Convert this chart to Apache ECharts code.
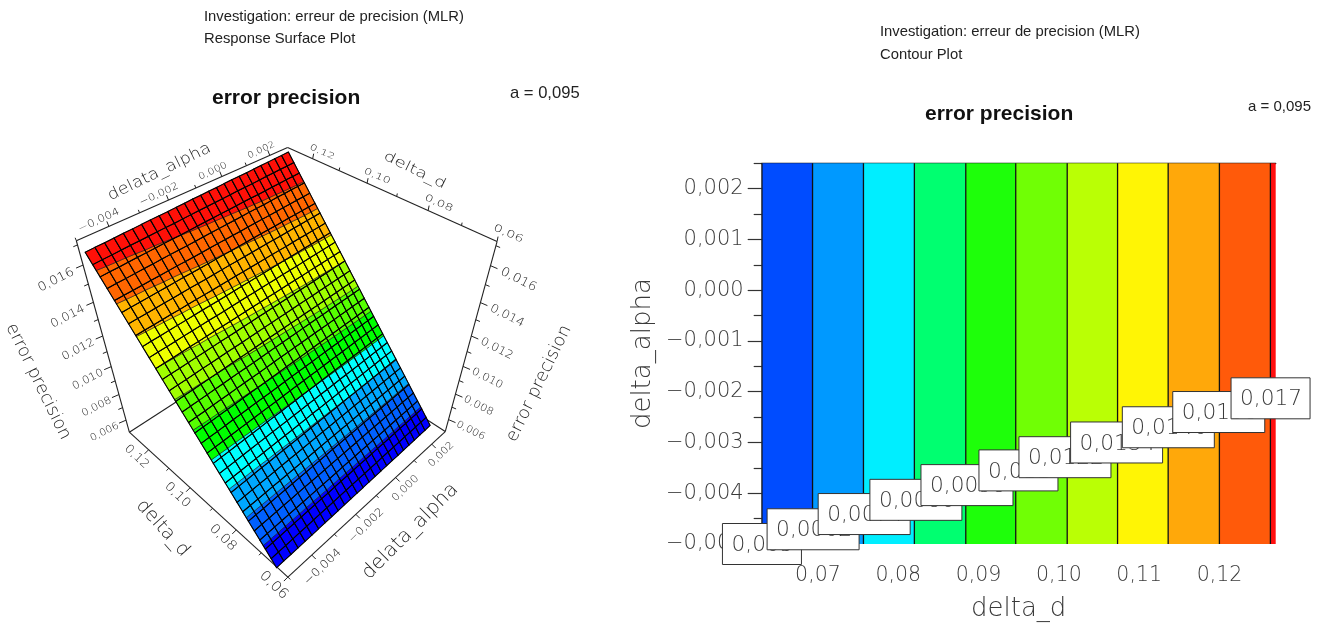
<!DOCTYPE html>
<html><head><meta charset="utf-8">
<style>html,body{margin:0;padding:0;background:#fff}#c{width:1323px;height:623px}</style>
<script src="https://cdn.jsdelivr.net/npm/echarts@6/dist/echarts.min.js"></script>
</head><body><div id="c"></div>
<script>
// ---------- values ----------
const contourLevels = [0.005,0.0062,0.0074,0.0086,0.0098,0.011,0.0122,0.0134,0.0146,0.0158,0.017];
const contourLabels = ['0,005','0,0062','0,0074','0,0086','0,0098','0,011','0,0122','0,0134','0,0146','0,0158','0,017'];
const contourD = [0.06303,0.06933,0.07567,0.08201,0.08841,0.09463,0.10104,0.10731,0.11361,0.11999,0.12634];
const labelD = [0.06303,0.0694,0.07576,0.0822,0.08856,0.09497,0.10076,0.10719,0.11363,0.11991,0.12636];
const labelAlpha = [-0.005,-0.00471,-0.00441,-0.00413,-0.00384,-0.00355,-0.00329,-0.003,-0.0027,-0.0024,-0.00213];
const contourColors = ['#004cff','#0099ff','#00eeff','#00ff70','#1eff0a','#70ff05','#baff05','#fff505','#ffa80a','#ff5a0a','#ff0f0f'];
const surfaceColors = ['#0000ff','#0060ff','#00a8ff','#00ffff','#00ff00','#55ff00','#a0ff00','#eeff00','#ffb400','#ff6600','#ff1008'];
const surfaceLevels = [0.0061,0.0072,0.0083,0.0094,0.0105,0.0116,0.0127,0.0138,0.0149,0.016];
const dMajor = [0.07,0.08,0.09,0.10,0.11,0.12];
const dMinor = [0.075,0.085,0.095,0.105,0.115,0.125];
const alphaMajor = [-0.005,-0.004,-0.003,-0.002,-0.001,0,0.001,0.002];
const alphaMinor = [-0.0045,-0.0035,-0.0025,-0.0015,-0.0005,0.0005,0.0015,0.0025];
// surface mesh
const meshD = [0.0642,0.0662,0.0683,0.0703,0.0723,0.0744,0.0764,0.0784,0.0805,0.0825,0.0845,0.0866,0.0887,0.0907,0.0928,0.0949,0.0970,0.0991,0.1012,0.1034,0.1055,0.1076,0.1097,0.1118,0.1140,0.1161,0.1183,0.1205,0.1226,0.1248,0.1270];
const meshAlpha = [-0.0050,-0.0047,-0.0044,-0.0041,-0.0038,-0.0035,-0.0032,-0.0029,-0.0026,-0.0023,-0.0020,-0.0017,-0.0014,-0.0011,-0.0008,-0.0005,-0.0002,0.0001,0.0004,0.0007,0.0010,0.0013,0.0016,0.0019,0.0022,0.0025];
const meshZ = [0.00520,0.00560,0.00600,0.00638,0.00676,0.00716,0.00755,0.00793,0.00833,0.00871,0.00909,0.00949,0.00989,0.01027,0.01067,0.01107,0.01147,0.01187,0.01227,0.01269,0.01309,0.01349,0.01389,0.01429,0.01471,0.01511,0.01553,0.01595,0.01635,0.01677,0.01719];
const meshTilt = [-0.0003,-0.00028,-0.00027,-0.00025,-0.00023,-0.00022,-0.0002,-0.00018,-0.00017,-0.00016,-0.00014,-0.00012,-0.0001,-0.00009,-0.00007,-0.00006,-0.00004,-0.00002,-0.00001,0,0.00002,0.00004,0.00005,0.00007,0.00008,0.0001];
const colourBend = [-0.0006,-0.00057,-0.00055,-0.00053,-0.0005,-0.00047,-0.00045,-0.00042,-0.00039,-0.00036,-0.00033,-0.0003,-0.00027,-0.00025,-0.00022,-0.0002,-0.00017,-0.00014,-0.00012,-0.0001,-0.00008,-0.00006,-0.00004,-0.00002,-0.00001,0];
// 3D box ranges and ticks
const boxD = [0.06,0.13], boxAlpha = [-0.005,0.0028], boxZ = [0.005,0.0172];
const zTicks = [0.006,0.008,0.010,0.012,0.014,0.016], zTickLabels = ['0,006','0,008','0,010','0,012','0,014','0,016'], zMinor = [0.007,0.009,0.011,0.013,0.015,0.017];
const dTicks3 = [0.06,0.08,0.10,0.12], dTickLabels3 = ['0,06','0,08','0,10','0,12'], dMinor3 = [0.07,0.09,0.11];
const aTicks3 = [-0.004,-0.002,0,0.002], aTickLabels3 = ['\u22120,004','\u22120,002','0,000','0,002'], aMinor3 = [-0.005,-0.003,-0.001,0.001];

// ---------- view calibration of the 3D box: [u,v,w] box corner -> picture position ----------
const view = [[1,0,1,77.3,243.3],[1,1,1,287.7,144],[0,1,1,496,243.3],[1,0,0,128.3,427.3],[0,1,0,445.7,427.3],[0,0,0,288.3,580.7],[1,1,0,288,335]];
function solveView(){
  const rows=[],rhs=[];
  view.forEach(([u,v,w,x,y])=>{
    rows.push([u,v,w,1,0,0,0,0,-x*u,-x*v,-x*w]);rhs.push(x);
    rows.push([0,0,0,0,u,v,w,1,-y*u,-y*v,-y*w]);rhs.push(y);
  });
  const n=11,M=[];
  for(let i=0;i<n;i++){const r=[];for(let j=0;j<n;j++){let s=0;rows.forEach(a=>s+=a[i]*a[j]);r.push(s);}let s=0;rows.forEach((a,k)=>s+=a[i]*rhs[k]);r.push(s);M.push(r);}
  for(let i=0;i<n;i++){let p=i;for(let k=i+1;k<n;k++)if(Math.abs(M[k][i])>Math.abs(M[p][i]))p=k;[M[i],M[p]]=[M[p],M[i]];
    for(let k=0;k<n;k++){if(k===i)continue;const f=M[k][i]/M[i][i];for(let j=i;j<=n;j++)M[k][j]-=f*M[i][j];}}
  return M.map((r,i)=>r[n]/r[i]);
}
const P = solveView();
function project(d,a,z){
  const u=(d-boxD[0])/(boxD[1]-boxD[0]),v=(a-boxAlpha[0])/(boxAlpha[1]-boxAlpha[0]),w=(z-boxZ[0])/(boxZ[1]-boxZ[0]);
  const q=P[8]*u+P[9]*v+P[10]*w+1;
  return [(P[0]*u+P[1]*v+P[2]*w+P[3])/q,(P[4]*u+P[5]*v+P[6]*w+P[7])/q,q];
}
const dLo=boxD[0],dHi=boxD[1],aLo=boxAlpha[0],aHi=boxAlpha[1],zLo=boxZ[0],zHi=boxZ[1];

const FONT='"DejaVu Sans"';
const INK='#3a3a3a', INK3='#222';
const axes3 = [
 {at:t=>[dHi,aLo,t],ticks:zTicks,labels:zTickLabels,minor:zMinor,tick:[-7,3],off:[-27,15],rot:27,size:13.6,sy:0.9,title:'error precision',tAt:0.011,tOff:[-69,30],tRot:-64,tSize:17.5,tSy:1,ref:0.016},
 {at:t=>[dLo,aHi,t],ticks:zTicks,labels:zTickLabels,minor:zMinor,tick:[7,3],off:[28,14],rot:-27,size:13.6,sy:0.9,title:'error precision',tAt:0.011,tOff:[72,32],tRot:64,tSize:17.5,tSy:1,ref:0.016},
 {at:t=>[dHi,t,zHi],ticks:aTicks3,labels:aTickLabels3,minor:aMinor3,tick:[-2,-5],off:[-10,-6],rot:25,size:12,sy:0.85,title:'delata_alpha',tAt:-0.002,tOff:[-9,-28],tRot:26,tSize:17.6,tSy:0.9,ref:-0.004},
 {at:t=>[t,aHi,zHi],ticks:dTicks3,labels:dTickLabels3,minor:dMinor3,tick:[1,-5],off:[9.5,-6.5],rot:-24,size:12,sy:0.7,title:'delta_d',tAt:0.09,tOff:[18,-26],tRot:-26,tSize:18.5,tSy:0.75,ref:0.12},
 {at:t=>[t,aLo,zLo],ticks:dTicks3,labels:dTickLabels3,minor:dMinor3,tick:[-4,4],off:[-12,7],rot:-44,size:13,sy:0.9,title:'delta_d',tAt:0.09,tOff:[-50,20],tRot:-48,tSize:19,tSy:1,ref:0.12},
 {at:t=>[dLo,t,zLo],ticks:aTicks3,labels:aTickLabels3,minor:aMinor3,tick:[4,4],off:[11,12],rot:44,size:12.7,sy:0.9,title:'delata_alpha',tAt:-0.001,tOff:[34,36],tRot:45,tSize:19.8,tSy:1,ref:-0.004}
];
const boxEdges = [
 [[dHi,aLo,zHi],[dHi,aHi,zHi]],[[dHi,aHi,zHi],[dLo,aHi,zHi]],
 [[dHi,aLo,zHi],[dHi,aLo,zLo]],[[dLo,aHi,zHi],[dLo,aHi,zLo]],
 [[dHi,aLo,zLo],[dLo,aLo,zLo]],[[dLo,aLo,zLo],[dLo,aHi,zLo]],
 [[dHi,aLo,zLo],[dHi,aHi,zLo]],[[dLo,aHi,zLo],[dHi,aHi,zLo]]
];

// ---------- surface cells, clipped to the colour bands ----------
// a mesh point is [d, alpha, height, colour value]
function bandClip(poly,lo,hi){
  const cut=(pts,keep,val)=>{const out=[];for(let i=0;i<pts.length;i++){const a=pts[i],b=pts[(i+1)%pts.length],ka=keep(a[3]),kb=keep(b[3]);
    if(ka)out.push(a);
    if(ka!==kb){const t=(val-a[3])/(b[3]-a[3]);out.push([a[0]+t*(b[0]-a[0]),a[1]+t*(b[1]-a[1]),a[2]+t*(b[2]-a[2]),val]);}}return out;};
  return cut(cut(poly,z=>z>=lo,lo),z=>z<=hi,hi);
}
const rowWeight=i=>(meshZ[i]-meshZ[0])/(meshZ[meshZ.length-1]-meshZ[0]);
const node=(i,j)=>[meshD[i],meshAlpha[j],meshZ[i]+meshTilt[j],meshZ[i]+colourBend[j]*rowWeight(i)];
const cells=[];
for(let i=0;i<meshD.length-1;i++)for(let j=0;j<meshAlpha.length-1;j++)cells.push([i,j]);

function renderCell(params,api){
  const [i,j]=cells[params.dataIndex];
  const poly=[node(i,j),node(i+1,j),node(i+1,j+1),node(i,j+1)];
  const toPx=p=>{const q=project(p[0],p[1],p[2]);return api.coord([q[0],q[1]]);};
  const children=[];
  for(let b=0;b<surfaceColors.length;b++){
    const lo=b===0?-1:surfaceLevels[b-1],hi=b===surfaceColors.length-1?1:surfaceLevels[b];
    const part=bandClip(poly,lo,hi);
    if(part.length>2)children.push({type:'polygon',shape:{points:part.map(toPx)},style:{fill:surfaceColors[b],stroke:'#1a1a1a',lineWidth:0.6}});
  }
  children.push({type:'polygon',shape:{points:poly.map(toPx)},style:{fill:'none',stroke:'#000',lineWidth:1.05}});
  return {type:'group',children};
}
const seg=(api,a,b,w)=>({type:'line',shape:{x1:a[0],y1:a[1],x2:b[0],y2:b[1]},style:{stroke:'#222',lineWidth:w||1}});
function text3(api,str,p,off,rot,size,sy,scale){
  const c=api.coord([p[0]+off[0]*scale,p[1]+off[1]*scale]);
  return {type:'text',x:c[0],y:c[1],rotation:rot*Math.PI/180,scaleX:1,scaleY:sy,
    style:{text:str,fill:INK3,font:'200 '+(size*scale).toFixed(2)+'px '+FONT,align:'center',verticalAlign:'middle',textAlign:'center',textVerticalAlign:'middle'}};
}
const axisItems=[];
boxEdges.forEach((e,k)=>axisItems.push({kind:'edge',k}));
axes3.forEach((a,k)=>{
  a.ticks.forEach((t,n)=>axisItems.push({kind:'major',k,t,n}));
  a.minor.forEach(t=>axisItems.push({kind:'minor',k,t}));
  axisItems.push({kind:'title',k});
});
function renderAxis3(params,api){
  const it=axisItems[params.dataIndex];
  if(it.kind==='edge'){const e=boxEdges[it.k];const a=project(...e[0]),b=project(...e[1]);return seg(api,api.coord([a[0],a[1]]),api.coord([b[0],b[1]]),1.1);}
  const ax=axes3[it.k];
  if(it.kind==='title'){const p=project(...ax.at(ax.tAt));return text3(api,ax.title,p,ax.tOff,ax.tRot,ax.tSize,ax.tSy,1);}
  const p=project(...ax.at(it.t)),q0=project(...ax.at(ax.ref))[2],scale=q0/p[2],f=it.kind==='major'?1:0.6;
  const line=seg(api,api.coord([p[0],p[1]]),api.coord([p[0]+ax.tick[0]*f,p[1]+ax.tick[1]*f]),1);
  if(it.kind==='minor')return line;
  return {type:'group',children:[line,text3(api,ax.labels[it.n],p,ax.off,ax.rot,ax.size,ax.sy,scale)]};
}

// ---------- contour ----------
const bandRows=contourD.map((d,i)=>[d,i<contourD.length-1?contourD[i+1]:0.127,-0.005,0.0025,i]);
function renderBand(params,api){
  const a=api.coord([api.value(0),api.value(3)]),b=api.coord([api.value(1),api.value(2)]);
  return {type:'rect',shape:{x:a[0],y:a[1],width:b[0]-a[0],height:b[1]-a[1]},style:{fill:contourColors[api.value(4)]}};
}
function renderLine(params,api){
  const a=api.coord([api.value(0),0.0025]),b=api.coord([api.value(0),-0.005]);
  return {type:'line',shape:{x1:a[0],y1:a[1],x2:b[0],y2:b[1]},style:{stroke:'#111',lineWidth:1.3}};
}
function renderLabel(params,api){
  const i=params.dataIndex,c=api.coord([labelD[i],labelAlpha[i]]),s=contourLabels[i],w=s.length>5?92:79,h=41;
  return {type:'group',children:[
    {type:'rect',shape:{x:c[0]-w/2,y:c[1]-h/2,width:w,height:h},style:{fill:'#fff',stroke:'#333',lineWidth:1}},
    {type:'text',x:c[0]-w/2+9,y:c[1]+1.5,style:{text:s,fill:INK,font:'200 21.7px '+FONT,align:'left',verticalAlign:'middle',textAlign:'left',textVerticalAlign:'middle'}}
  ]};
}
const fmt=v=>{const s=Math.abs(v).toFixed(3).replace('.',',');return v<-1e-9?'\u2212'+s:s;};
const fmtD=v=>v.toFixed(2).replace('.',',');
const tLine={color:'#333',width:1.2};
const small={fontFamily:'"Liberation Sans"',fontSize:14.8,fontWeight:'normal',color:'#222'};
const big={fontFamily:'"Liberation Sans"',fontSize:21,fontWeight:'bold',color:'#111'};
const option={
  animation:false,backgroundColor:'#fff',
  title:[
    {text:'Investigation: erreur de precision (MLR)',left:199,top:4.75,textStyle:small},
    {text:'Response Surface Plot',left:199,top:26.75,textStyle:small},
    {text:'error precision',left:207,top:82.5,textStyle:big},
    {text:'a = 0,095',left:505,top:80,textStyle:Object.assign({},small,{fontSize:16.6})},
    {text:'Investigation: erreur de precision (MLR)',left:875,top:19.7,textStyle:small},
    {text:'Contour Plot',left:875,top:42.7,textStyle:small},
    {text:'error precision',left:920,top:98.5,textStyle:big},
    {text:'a = 0,095',left:1243,top:94.6,textStyle:Object.assign({},small,{fontSize:15})}
  ],
  grid:[{left:0,top:0,width:1323,height:623,show:false,outerBoundsMode:'none'},{left:761.7,top:163.3,width:514,height:380.7,show:false,outerBoundsMode:'none'}],
  xAxis:[
    {type:'value',gridIndex:0,min:0,max:1323,show:false},
    {type:'value',gridIndex:1,min:0.063,max:0.127,position:'bottom',name:'delta_d',nameLocation:'middle',nameGap:52,
      nameTextStyle:{fontFamily:FONT,fontWeight:200,fontSize:26,color:INK},splitLine:{show:false},axisLine:{show:false},
      axisTick:{show:true,customValues:dMajor,length:13,lineStyle:tLine},
      axisLabel:{customValues:dMajor,formatter:fmtD,margin:21,fontFamily:FONT,fontWeight:200,fontSize:20.5,color:INK}},
    {type:'value',gridIndex:1,min:0.063,max:0.127,position:'bottom',splitLine:{show:false},axisLine:{show:false},
      axisTick:{show:true,customValues:dMinor,length:8,lineStyle:tLine},axisLabel:{show:false}},
    {type:'value',gridIndex:1,min:0.063,max:0.127,position:'top',splitLine:{show:false},axisLine:{show:true,lineStyle:{color:'#111',width:1.3}},axisTick:{show:false},axisLabel:{show:false}}
  ],
  yAxis:[
    {type:'value',gridIndex:0,min:0,max:623,inverse:true,show:false},
    {type:'value',gridIndex:1,position:'left',min:-0.005,max:0.0025,name:'delta_alpha',nameLocation:'middle',nameGap:105,
      nameTextStyle:{fontFamily:FONT,fontWeight:200,fontSize:26,color:INK},splitLine:{show:false},axisLine:{show:false},
      axisTick:{show:true,customValues:alphaMajor,length:14,lineStyle:tLine},
      axisLabel:{customValues:alphaMajor,formatter:fmt,margin:18,fontFamily:FONT,fontWeight:200,fontSize:21,color:INK}},
    {type:'value',gridIndex:1,position:'left',min:-0.005,max:0.0025,splitLine:{show:false},axisLine:{show:false},
      axisTick:{show:true,customValues:alphaMinor,length:8,lineStyle:tLine},axisLabel:{show:false}}
  ],
  series:[
    {type:'custom',name:'box',xAxisIndex:0,yAxisIndex:0,renderItem:renderAxis3,data:axisItems.map((_,i)=>[i]),z:1,silent:true},
    {type:'custom',name:'surface',xAxisIndex:0,yAxisIndex:0,renderItem:renderCell,data:cells.map((_,i)=>[i]),z:2,silent:true},
    {type:'custom',name:'bands',xAxisIndex:1,yAxisIndex:1,renderItem:renderBand,data:bandRows,z:2,silent:true,encode:{x:[0,1],y:[2,3]}},
    {type:'custom',name:'contours',xAxisIndex:1,yAxisIndex:1,renderItem:renderLine,data:contourD.map((d,i)=>[d,contourLevels[i]]),z:3,silent:true,encode:{x:0}},
    {type:'custom',name:'labels',xAxisIndex:1,yAxisIndex:1,renderItem:renderLabel,data:labelD.map((d,i)=>[d,labelAlpha[i]]),z:4,silent:true,encode:{x:0,y:1}}
  ]
};
echarts.init(document.getElementById('c'),null,{renderer:'canvas'}).setOption(option);
</script></body></html>
